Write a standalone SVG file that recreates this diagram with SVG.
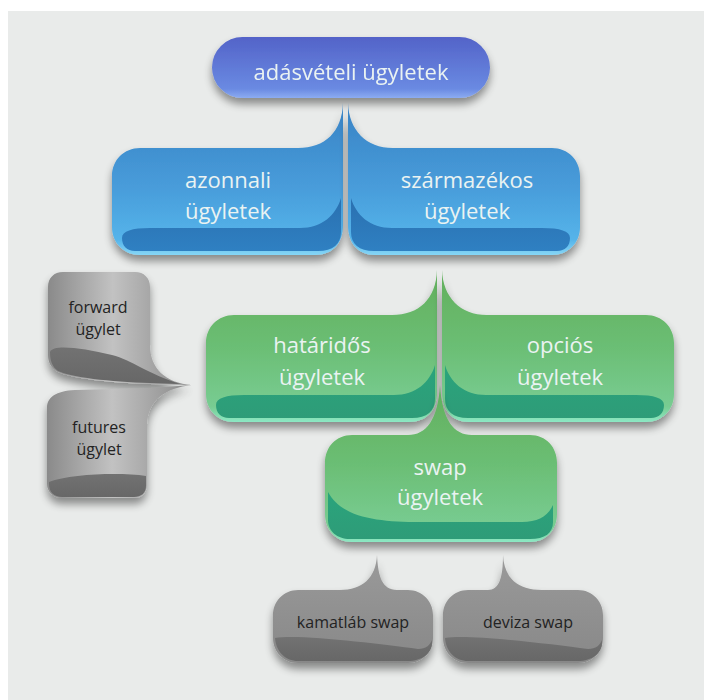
<svg xmlns="http://www.w3.org/2000/svg" xmlns:xlink="http://www.w3.org/1999/xlink" width="704" height="700" viewBox="0 0 704 700">
  <style>
    .t { font-family: "Open Sans", "Liberation Sans", sans-serif; text-anchor: middle; }
    .tl { font-size: 22px; fill: #eaf3f2; }
    .ts { font-size: 16px; fill: #232323; }
  </style>
  <defs>
    <filter id="sh" x="-20%" y="-20%" width="140%" height="150%">
      <feGaussianBlur in="SourceAlpha" stdDeviation="4.5"/>
      <feOffset dx="0" dy="6" result="b"/>
      <feComponentTransfer><feFuncA type="linear" slope="0.42"/></feComponentTransfer>
      <feMerge><feMergeNode/><feMergeNode in="SourceGraphic"/></feMerge>
    </filter>
    <linearGradient id="topG" x1="0" y1="0" x2="0" y2="1">
      <stop offset="0" stop-color="#5363c8"/>
      <stop offset="0.85" stop-color="#6a8ae2"/>
      <stop offset="1" stop-color="#8cacf2"/>
    </linearGradient>
    <linearGradient id="blueG" x1="0" y1="0" x2="0" y2="1">
      <stop offset="0" stop-color="#3882c4"/>
      <stop offset="0.55" stop-color="#489cda"/>
      <stop offset="0.9" stop-color="#55b4ea"/>
      <stop offset="1" stop-color="#86d6f6"/>
    </linearGradient>
    <linearGradient id="blueB" x1="0" y1="0" x2="0" y2="1">
      <stop offset="0" stop-color="#2a70b0"/>
      <stop offset="1" stop-color="#2f80c2"/>
    </linearGradient>
    <linearGradient id="greenG" x1="0" y1="0" x2="0" y2="1">
      <stop offset="0" stop-color="#62af5c"/>
      <stop offset="0.5" stop-color="#6bbe74"/>
      <stop offset="0.9" stop-color="#78cc92"/>
      <stop offset="1" stop-color="#8ce8c4"/>
    </linearGradient>
    <linearGradient id="greenB" x1="0" y1="0" x2="0" y2="1">
      <stop offset="0" stop-color="#2aa47c"/>
      <stop offset="1" stop-color="#2e9c78"/>
    </linearGradient>
    <linearGradient id="grayL" x1="0" y1="0" x2="1" y2="0">
      <stop offset="0" stop-color="#8a8a8a"/>
      <stop offset="0.45" stop-color="#c2c2c2"/>
      <stop offset="1" stop-color="#888888"/>
    </linearGradient>
    <linearGradient id="grayB" x1="0" y1="0" x2="0" y2="1">
      <stop offset="0" stop-color="#9a9a9a"/>
      <stop offset="1" stop-color="#888888"/>
    </linearGradient>
    <linearGradient id="grayD" x1="0" y1="0" x2="0" y2="1">
      <stop offset="0" stop-color="#727272"/>
      <stop offset="1" stop-color="#676767"/>
    </linearGradient>
    <path id="bubbleL" d="M140,148 L298,148 C325,148 342,132 343,103 L343,225 C343,243 333,255 315,255 L140,255 C124,255 112,243 112,227 L112,176 C112,160 124,148 140,148 Z"/>
    <path id="bandL" d="M122,238 C122,231 132,228 150,228 L300,228 C322,228 336,215 341,198 L341,232 C341,244 333,251 318,251 L135,251 C127,251 122,246 122,238 Z"/>
    <path id="bubbleR" d="M348,103 C349,130 366,148 393,148 L552,148 C568,148 580,160 580,176 L580,227 C580,243 568,255 552,255 L375,255 C358,255 348,243 348,225 Z"/>
    <path id="bandR" d="M570,238 C570,231 560,228 542,228 L392,228 C370,228 356,215 351,198 L351,232 C351,244 359,251 374,251 L557,251 C565,251 570,246 570,238 Z"/>
  </defs>

  <rect x="0" y="0" width="704" height="700" fill="#ffffff"/>
  <rect x="8" y="11" width="696" height="689" fill="#e9ebea"/>

  <g id="connectors"/>

  <g id="n-adasveteli" filter="url(#sh)">
    <rect x="212" y="37" width="278" height="61" rx="30.5" fill="url(#topG)"/>
    <text class="t tl" x="351" y="80" fill="#eef1fb">adásvételi ügyletek</text>
  </g>

  <g id="n-azonnali">
    <use xlink:href="#bubbleL" fill="url(#blueG)" filter="url(#sh)"/>
    <use xlink:href="#bandL" fill="url(#blueB)"/>
    <text class="t tl" x="228" y="188">azonnali</text>
    <text class="t tl" x="228" y="219">ügyletek</text>
  </g>

  <g id="n-szarmazekos">
    <use xlink:href="#bubbleR" fill="url(#blueG)" filter="url(#sh)"/>
    <use xlink:href="#bandR" fill="url(#blueB)"/>
    <text class="t tl" x="467" y="188">származékos</text>
    <text class="t tl" x="467" y="219">ügyletek</text>
  </g>

  <g id="n-hataridos">
    <g transform="translate(94,167)">
      <use xlink:href="#bubbleL" fill="url(#greenG)" filter="url(#sh)"/>
      <use xlink:href="#bandL" fill="url(#greenB)"/>
    </g>
    <text class="t tl" x="322" y="353">határidős</text>
    <text class="t tl" x="322" y="385">ügyletek</text>
  </g>

  <g id="n-opcios">
    <g transform="translate(94,167)">
      <use xlink:href="#bubbleR" fill="url(#greenG)" filter="url(#sh)"/>
      <use xlink:href="#bandR" fill="url(#greenB)"/>
    </g>
    <text class="t tl" x="560" y="353">opciós</text>
    <text class="t tl" x="560" y="385">ügyletek</text>
  </g>

  <g id="n-swap">
    <path d="M352,435 L408,435 C426,435 438,420 440,385 C442,420 454,435 472,435 L530,435 C546,435 557,447 557,463 L557,514 C557,530 546,542 530,542 L352,542 C336,542 325,530 325,514 L325,463 C325,447 336,435 352,435 Z" fill="url(#greenG)" filter="url(#sh)"/>
    <path d="M328,492 C342,518 378,522 420,522 L522,522 C538,522 548,516 553,505 L553,522 C553,533 545,539 530,539 L350,539 C337,539 328,531 328,520 Z" fill="url(#greenB)"/>
    <text class="t tl" x="440" y="475">swap</text>
    <text class="t tl" x="440" y="505">ügyletek</text>
  </g>

  <g id="n-forward">
    <path d="M63,272 L135,272 C144,272 150,278 150,287 L150,345 C150,368 165,383 192,385 L150,384 C110,383 70,378 58,372 C51,368 48,362 48,355 L48,287 C48,278 54,272 63,272 Z" fill="url(#grayL)" filter="url(#sh)"/>
    <path d="M50,352 C53,344 82,348 112,355 C132,360 148,374 180,384 L150,383 C110,382 70,377 58,371 C52,367 50,360 50,352 Z" fill="url(#grayD)"/>
    <text class="t ts" x="98" y="313">forward</text>
    <text class="t ts" x="98" y="335">ügylet</text>
  </g>

  <g id="n-futures">
    <path d="M47,408 C47,397 56,391 75,390 L150,388 L192,385 C165,388 148,400 147,425 L147,485 C147,492 142,498 135,498 L62,498 C54,498 47,492 47,484 Z" fill="url(#grayL)" filter="url(#sh)"/>
    <path d="M49,482 C70,474 120,472 146,476 L146,486 C146,493 141,497 134,497 L62,497 C54,497 49,492 49,484 Z" fill="url(#grayD)"/>
    <text class="t ts" x="99" y="433">futures</text>
    <text class="t ts" x="99" y="455">ügylet</text>
  </g>

  <g id="n-kamatlab">
    <path d="M298,590 L340,590 C362,590 376,578 377,555 C378,576 382,590 397,590 L408,590 C422,590 433,601 433,615 L433,638 C433,652 422,663 408,663 L298,663 C284,663 273,652 273,638 L273,615 C273,601 284,590 298,590 Z" fill="url(#grayB)" filter="url(#sh)"/>
    <path d="M275,638 C300,634 380,644 418,649 C426,649 430,645 432,640 L432,643 C432,653 422,661 408,661 L298,661 C286,661 276,652 275,638 Z" fill="url(#grayD)"/>
    <text class="t ts" x="353" y="628">kamatláb swap</text>
  </g>

  <g id="n-deviza">
    <path d="M468,590 L488,590 C499,590 503,578 503,555 C504,578 518,590 542,590 L578,590 C592,590 603,601 603,615 L603,638 C603,652 592,663 578,663 L468,663 C454,663 443,652 443,638 L443,615 C443,601 454,590 468,590 Z" fill="url(#grayB)" filter="url(#sh)"/>
    <path d="M445,638 C470,634 550,644 588,649 C596,649 600,645 602,640 L602,643 C602,653 592,661 578,661 L468,661 C456,661 446,652 445,638 Z" fill="url(#grayD)"/>
    <text class="t ts" x="528" y="628">deviza swap</text>
  </g>
</svg>
